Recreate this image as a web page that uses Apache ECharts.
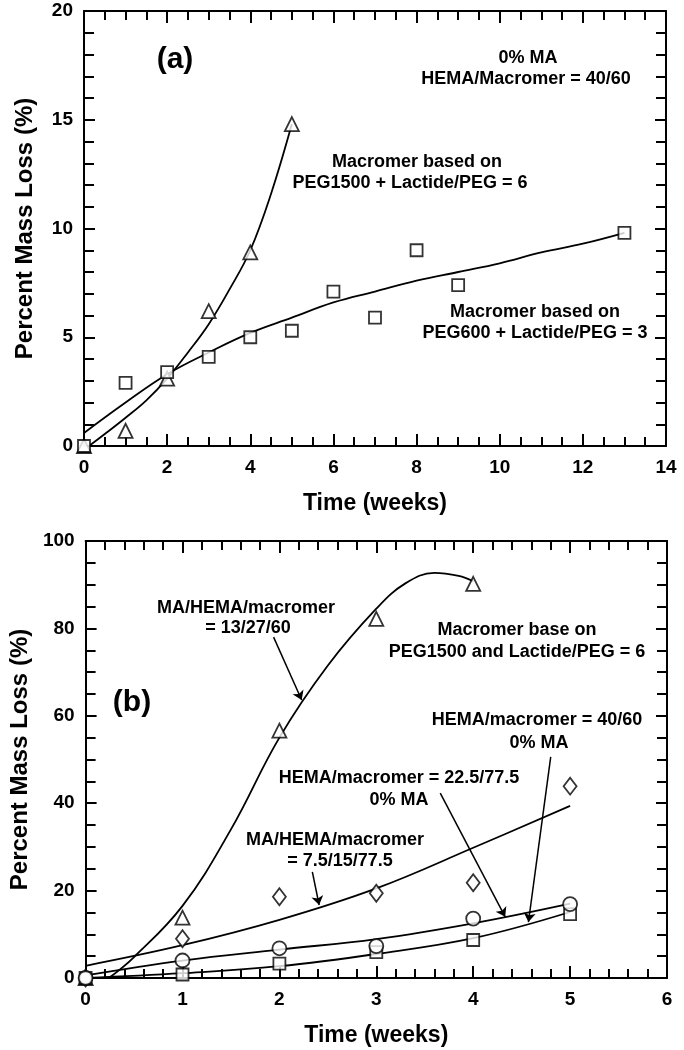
<!DOCTYPE html>
<html>
<head>
<meta charset="utf-8">
<script src="https://cdn.jsdelivr.net/npm/echarts@6/dist/echarts.min.js"></script>
<style>
html,body{margin:0;padding:0;background:#fff;}
#chart{width:684px;height:1050px;}
</style>
</head>
<body>
<div id="chart"></div>
<script>
// ---------- Panel (a) data ----------
const aWeeksTri = [0, 1, 2, 3, 4, 5];
const aLossTri  = [0, 0.7, 3.1, 6.2, 8.9, 14.8];           // PEG1500 + Lactide/PEG = 6
const aWeeksSq  = [0, 1, 2, 3, 4, 5, 6, 7, 8, 9, 13];
const aLossSq   = [0, 2.9, 3.4, 4.1, 5.0, 5.3, 7.1, 5.9, 9.0, 7.4, 9.8]; // PEG600 + Lactide/PEG = 3
const aFitTri = [[0.12,0],[0.5,0.55],[1,1.3],[1.5,2.1],[2,3.1],[2.5,4.3],[3,5.6],[3.5,7.2],[4,9.0],[4.5,11.6],[5,14.8]];
const aFitSq  = [[0,0.6],[1,2.0],[2,3.3],[3,4.3],[4,5.2],[5,5.9],[6,6.6],[7,7.1],[8,7.6],[9,8.0],[10,8.4],[11,8.9],[12,9.3],[13,9.8]];
const aXTicks = [0, 14, 2];   // min, max, interval
const aYTicks = [0, 20, 5];

// ---------- Panel (b) data ----------
const bWeeks    = [0, 1, 2, 3, 4, 5];
const bLossTri  = [0, 13.8, 56.6, 82.2, 90.2];        // MA/HEMA/macromer = 13/27/60
const bLossDia  = [0, 9.0, 18.6, 19.4, 21.8, 43.9];   // MA/HEMA/macromer = 7.5/15/77.5
const bLossCir  = [0, 4.0, 6.8, 7.3, 13.6, 16.9];     // HEMA/macromer = 22.5/77.5
const bLossSq   = [0, 0.8, 3.3, 5.9, 8.7, 14.6];      // HEMA/macromer = 40/60
const bFitTri = [[0.24,0],[0.5,4.8],[1,16.5],[1.5,34],[2,55],[2.5,71.5],[3,84.5],[3.3,90.3],[3.6,92.7],[3.85,92.0],[4,90.8]];
const bFitDia = [[0,2.8],[1,7.5],[2,13.3],[3,20.5],[4,29.8],[5,39.4]];
const bFitCir = [[0,0.6],[1,4.0],[2,6.5],[3,8.9],[4,12.5],[5,17.0]];
const bFitSq  = [[0,0],[1,1.1],[2,2.7],[3,5.5],[4,9.1],[5,15.1]];
const bArrows = [
  [[1.94,78.0],[2.23,63.6]],
  [[4.80,50.6],[4.57,12.8]],
  [[3.66,42.3],[4.33,14.0]],
  [[2.34,24.3],[2.41,16.7]]
];
const bXTicks = [0, 6, 1];
const bYTicks = [0, 100, 20];

const FONT = "'Liberation Sans', Arial, Helvetica, sans-serif";
const pair = (xs, ys) => ys.map((v, i) => [xs[i], v]);

function xAx(grid, t, minorSplit, isTop) {
  return {
    type: 'value', gridIndex: grid, min: t[0], max: t[1], interval: t[2],
    position: isTop ? 'top' : 'bottom',
    name: isTop ? '' : 'Time (weeks)', nameLocation: 'middle', nameGap: 46,
    nameTextStyle: { fontFamily: FONT, fontWeight: 'bold', fontSize: 23, color: '#000' },
    axisLine: { show: true, onZero: false, lineStyle: { color: '#000', width: 2 } },
    axisTick: { show: true, inside: true, length: 12, lineStyle: { color: '#000', width: 2 } },
    minorTick: { show: true, splitNumber: minorSplit, length: 9, lineStyle: { color: '#000', width: 2 } },
    axisLabel: { show: !isTop, margin: 12, fontFamily: FONT, fontWeight: 'bold', fontSize: 19, color: '#000' },
    splitLine: { show: false }
  };
}
function yAx(grid, t, minorSplit, isRight, gap) {
  return {
    type: 'value', gridIndex: grid, min: t[0], max: t[1], interval: t[2],
    position: isRight ? 'right' : 'left',
    name: isRight ? '' : 'Percent Mass Loss (%)', nameLocation: 'middle', nameGap: gap,
    nameTextStyle: { fontFamily: FONT, fontWeight: 'bold', fontSize: 24, color: '#000' },
    axisLine: { show: true, onZero: false, lineStyle: { color: '#000', width: 2 } },
    axisTick: { show: true, inside: true, length: 11, lineStyle: { color: '#000', width: 2 } },
    minorTick: { show: true, splitNumber: minorSplit, length: 10, lineStyle: { color: '#000', width: 2 } },
    axisLabel: { show: !isRight, margin: 11, fontFamily: FONT, fontWeight: 'bold', fontSize: 19, color: '#000' },
    splitLine: { show: false }
  };
}
function pts(xi, yi, data, symbol, size) {
  return {
    type: 'scatter', xAxisIndex: xi, yAxisIndex: yi, data: data, symbol: symbol, symbolSize: size,
    itemStyle: { color: '#fff', borderColor: '#000', borderWidth: 1.8 }, z: 5, silent: true
  };
}
function fit(xi, yi, data) {
  return {
    type: 'line', xAxisIndex: xi, yAxisIndex: yi, data: data, smooth: 0.4, showSymbol: false,
    lineStyle: { color: '#000', width: 1.8 }, z: 3, silent: true
  };
}
function txt(x, y, s, size) {
  return { type: 'text', x: x, y: y, z: 10, silent: true,
    style: { text: s, fill: '#000', textAlign: 'center', textVerticalAlign: 'middle',
      font: 'bold ' + (size || 18) + 'px ' + FONT } };
}

const chart = echarts.init(document.getElementById('chart'), null, { renderer: 'canvas' });
chart.setOption({
  backgroundColor: '#fff',
  animation: false,
  grid: [
    { left: 84, top: 11, right: 18, bottom: 604 },
    { left: 83, top: 541, right: 17, bottom: 72 }
  ],
  xAxis: [
    xAx(0, aXTicks, 4, false), xAx(0, aXTicks, 4, true),
    xAx(1, bXTicks, 5, false), xAx(1, bXTicks, 5, true)
  ],
  yAxis: [
    yAx(0, aYTicks, 5, false, 47), yAx(0, aYTicks, 5, true, 0),
    yAx(1, bYTicks, 4, false, 52), yAx(1, bYTicks, 4, true, 0)
  ],
  series: [
    fit(0, 0, aFitTri), fit(0, 0, aFitSq),
    pts(0, 0, pair(aWeeksTri, aLossTri), 'triangle', 14),
    pts(0, 0, pair(aWeeksSq, aLossSq), 'rect', 12),
    fit(2, 2, bFitTri), fit(2, 2, bFitDia), fit(2, 2, bFitCir), fit(2, 2, bFitSq),
    pts(2, 2, pair(bWeeks, bLossTri), 'triangle', 14),
    pts(2, 2, pair(bWeeks, bLossDia), 'diamond', [13, 17]),
    pts(2, 2, pair(bWeeks, bLossSq), 'rect', 12),
    pts(2, 2, pair(bWeeks, bLossCir), 'circle', 14),
    {
      type: 'lines', coordinateSystem: 'cartesian2d', xAxisIndex: 2, yAxisIndex: 2,
      data: bArrows.map(c => ({ coords: c })),
      symbol: ['none', 'arrow'], symbolSize: 9,
      lineStyle: { color: '#000', width: 1.5, opacity: 1 }, z: 6, silent: true
    }
  ],
  graphic: [
    txt(175, 60, '(a)', 30),
    txt(528, 58, '0% MA'),
    txt(526, 79, 'HEMA/Macromer = 40/60'),
    txt(417, 162, 'Macromer based on'),
    txt(410, 183, 'PEG1500 + Lactide/PEG = 6'),
    txt(535, 312, 'Macromer based on'),
    txt(535, 333, 'PEG600 + Lactide/PEG = 3'),
    txt(246, 608, 'MA/HEMA/macromer'),
    txt(248, 628, '= 13/27/60'),
    txt(517, 630, 'Macromer base on'),
    txt(517, 652, 'PEG1500 and Lactide/PEG = 6'),
    txt(132, 703, '(b)', 30),
    txt(537, 720, 'HEMA/macromer = 40/60'),
    txt(539, 743, '0% MA'),
    txt(399, 778, 'HEMA/macromer = 22.5/77.5'),
    txt(399, 800, '0% MA'),
    txt(335, 840, 'MA/HEMA/macromer'),
    txt(340, 861, '= 7.5/15/77.5')
  ]
});
</script>
</body>
</html>
